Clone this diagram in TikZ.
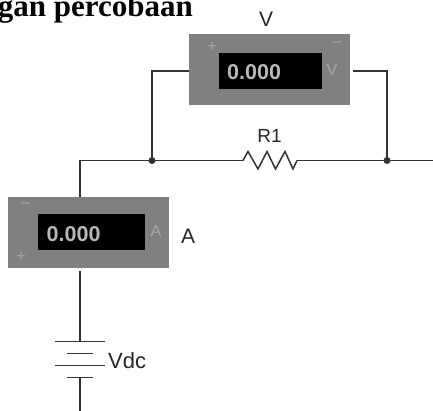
\documentclass[tikz,border=0pt]{standalone}
\usepackage{fontspec}
\setmainfont{Liberation Sans}
\newfontfamily\titlefont{Liberation Serif}[Scale=1]
\definecolor{meter}{HTML}{808080}
\definecolor{wire}{HTML}{333333}
\definecolor{faint}{HTML}{B8B8B8}
\definecolor{dimmark}{HTML}{A8A8A8}
\tikzset{
 x=1pt,y=-1pt,
 meterbox/.style={fill=meter,draw=none,minimum width=#1,minimum height=71pt,inner sep=0pt,outer sep=0pt},
 display/.style={fill=black,draw=none,inner sep=0pt,outer sep=0pt,minimum height=36pt,minimum width=#1},
 readout/.style={text=faint,font=\fontsize{21.5}{21.5}\selectfont\bfseries,inner sep=0pt,anchor=west},
 marktext/.style={text=dimmark,font=\fontsize{16}{16}\selectfont,inner sep=0pt},
 labeltext/.style={text=black!85,font=\fontsize{21}{21}\selectfont,inner sep=0pt},
 wireline/.style={draw=wire,line width=1.5pt},
 plate/.style={draw=wire,line width=1.4pt},
 junction/.style={circle,fill=wire,inner sep=0pt,minimum size=7pt,outer sep=0pt},
}
\begin{document}
\begin{tikzpicture}
\useasboundingbox (0,0) rectangle (433,411);
\clip (0,0) rectangle (433,411);
% title
\node[anchor=base east,inner sep=0pt,font=\titlefont\fontsize{31}{31}\selectfont\bfseries] (title) at (193,16.5) {gan percobaan};
% voltmeter
\node[meterbox=161pt] (vm) at (269.5,70) {};
\node[display=103pt] (vd) at (270,71) {};
\node[readout] (vr) at (227,72) {0.000};
\node[marktext] (vp) at (212,47) {+};
\node[marktext] (vn) at (337,44) {–};
\node[marktext] (vu) at (332,70) {V};
\node[labeltext] (vl) at (266,19) {V};
% ammeter
\node[meterbox=161pt] (am) at (88.5,233) {};
\node[display=107pt] (ad) at (91.5,232.5) {};
\node[readout] (ar) at (46.5,234) {0.000};
\node[marktext] (an) at (25.5,205.5) {–};
\node[marktext] (ap) at (21,257) {+};
\node[marktext] (au) at (156,231) {A};
\node[labeltext] (al) at (188,236) {A};
% labels
\node[labeltext,font=\fontsize{19}{19}\selectfont] (rl) at (269.5,135.5) {R1};
\node[labeltext,font=\fontsize{22}{22}\selectfont,anchor=west] (vdc) at (108,361) {Vdc};
% connection points
\coordinate (jl) at (152,160.5);
\coordinate (jr) at (387,160.5);
\coordinate (corner) at (80,160.5);
\coordinate (rin) at (243,160.5);
\coordinate (rout) at (297,160.5);
\coordinate (east) at (433,160.5);
\coordinate (vin) at (vm.west|-0,71);
\coordinate (vout) at (353,71);
\coordinate (atop) at (80,197.5);
\coordinate (abot) at (80,271);
\coordinate (b1) at (80,341.5);
\coordinate (b4) at (80,377.5);
\coordinate (south) at (80,411);
% wires
\draw[wireline] (vin) -| (jl);
\draw[wireline] (vout) -| (jr);
\draw[wireline] (atop) |- (jl) -- (rin);
\draw[wireline] (rout) -- (jr) -- (east);
\draw[wireline,line join=miter] (rin) -- (248,151.5) -- (258,169) -- (267,151.5) -- (275.5,169) -- (285,151.5) -- (293,169) -- (rout);
\node[junction] (jla) at (jl) {};
\node[junction] (jra) at (jr) {};
% battery
\draw[wireline] (abot) -- (b1);
\draw[wireline] (b4) -- (south);
\draw[plate] (55,341.5) -- (105,341.5);
\draw[plate] (67,353.5) -- (93,353.5);
\draw[plate] (55,365.5) -- (105,365.5);
\draw[plate] (67,377.5) -- (93,377.5);
\end{tikzpicture}
\end{document}
